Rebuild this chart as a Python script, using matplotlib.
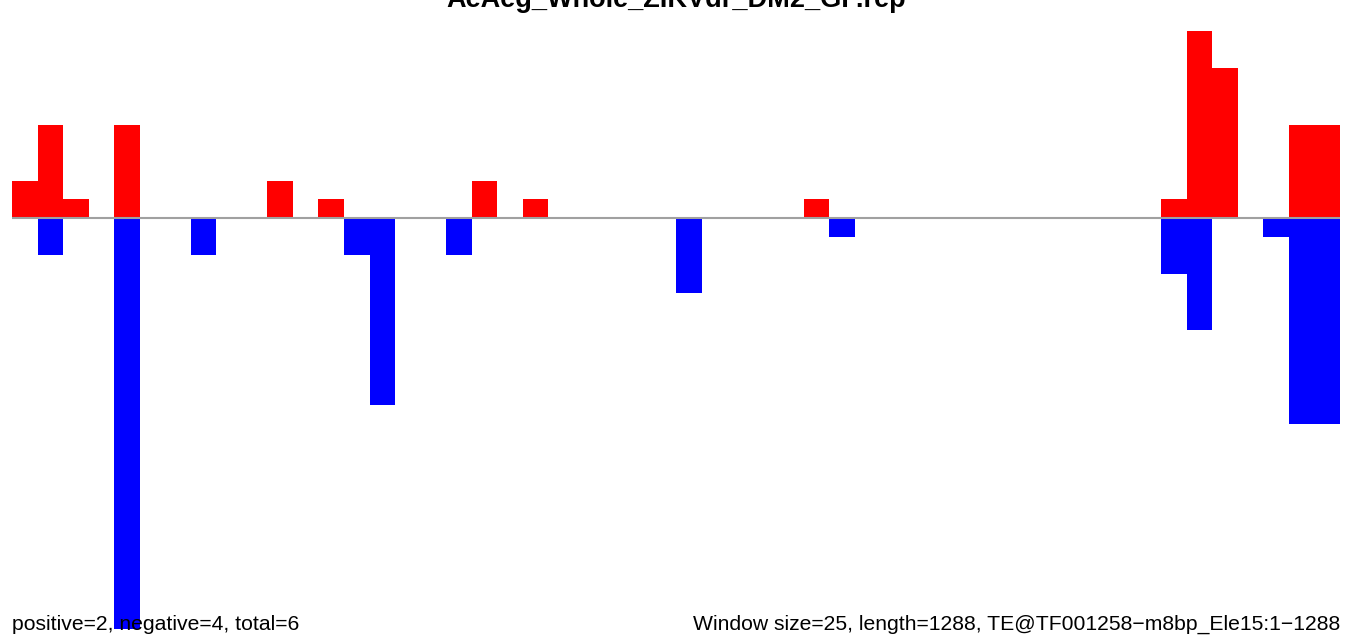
import numpy as np
import matplotlib
matplotlib.use("Agg")
import matplotlib.pyplot as plt

plt.rcParams["font.family"] = ["Liberation Sans", "DejaVu Sans"]

# 52 windows of 25 bp over a 1288 bp element
n_bins = 52
pos_bins = [0, 1, 2, 4, 10, 12, 18, 20, 31, 45, 46, 47, 50, 51]
pos_vals = [2, 5, 1, 5, 2, 1, 2, 1, 1, 1, 10, 8, 5, 5]
neg_bins = [1, 4, 7, 13, 14, 17, 26, 32, 45, 46, 49, 50, 51]
neg_vals = [2, 22, 2, 2, 10, 2, 4, 1, 3, 6, 1, 11, 11]

title = "AeAeg_Whole_ZIKVdr_DM2_GP.rep"
left_note = "positive=2, negative=4, total=6"
right_note = "Window size=25, length=1288, TE@TF001258\u2212m8bp_Ele15:1\u22121288"

W, H = 1352, 638
fig = plt.figure(figsize=(W / 100, H / 100), dpi=100)
ax = fig.add_axes([12 / W, 0, 1328 / W, 1])

unit = 18.7
ax.set_xlim(0, n_bins)
ax.set_ylim(-(H - 218) / unit, 218 / unit)

ax.bar(np.array(pos_bins), pos_vals, width=1.0, align="edge", color="#ff0000", linewidth=0)
ax.bar(np.array(neg_bins), -np.array(neg_vals), width=1.0, align="edge", color="#0000ff", linewidth=0)
ax.axhline(0, color="#a0a0a0", linewidth=1.5, zorder=1)
ax.axis("off")

fig.text(0.5, 1 - 7 / H, title, ha="center", va="baseline", fontsize=19.5, fontweight="bold")
fig.text(12 / W, 1 - 630 / H, left_note, ha="left", va="baseline", fontsize=15.2, zorder=5)
fig.text(1340 / W, 1 - 630 / H, right_note, ha="right", va="baseline", fontsize=15.2, zorder=5)

fig.savefig("out.png", dpi=100)
